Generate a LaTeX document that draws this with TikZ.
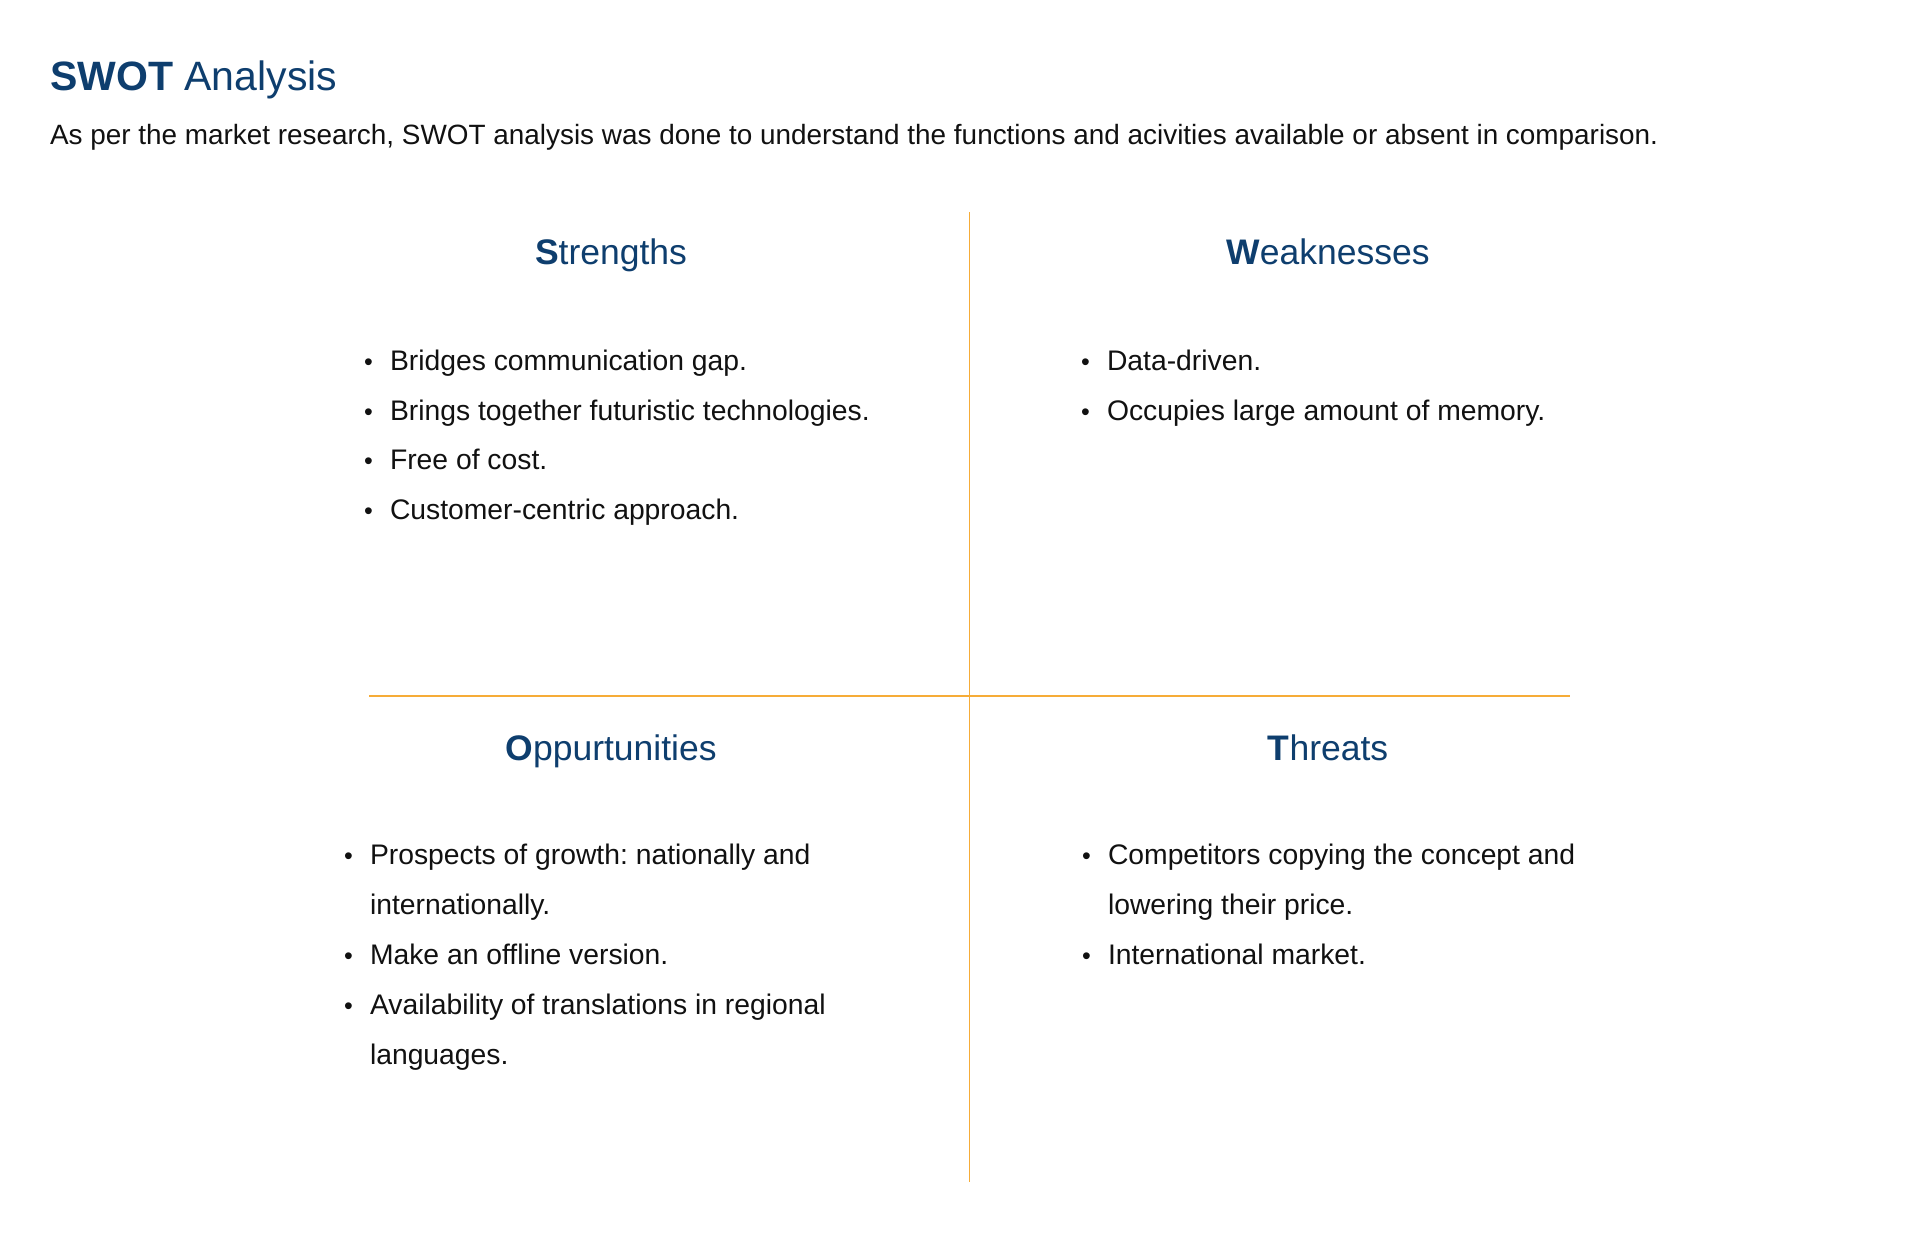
\documentclass[tikz,border=0pt]{standalone}
\usepackage{fontspec}
\setmainfont{Liberation Sans}
\frenchspacing
\definecolor{swblue}{HTML}{0E3E6E}
\definecolor{swline}{HTML}{F6AC38}
\definecolor{swtext}{HTML}{111111}
\begin{document}
\begin{tikzpicture}[x=1pt,y=-1pt,
  txt/.style={anchor=base west,inner sep=0pt,outer sep=0pt,text=swtext,font=\fontsize{28.3}{32}\selectfont},
  head/.style={anchor=base,inner sep=0pt,outer sep=0pt,text=swblue,font=\fontsize{35.5}{40}\selectfont},
  bul/.style={anchor=base west,inner sep=0pt,outer sep=0pt,text=swtext,font=\fontsize{25}{28}\selectfont},
  divider/.style={draw=swline,line width=1.1pt}]
\useasboundingbox[fill=white] (0,0) rectangle (1918,1256);
% title
\node[anchor=base west,inner sep=0pt,text=swblue,font=\fontsize{41}{46}\selectfont] (title) at (50,90) {\textbf{SWOT} Analysis};
\node[txt,font=\fontsize{27.9}{32}\selectfont] (sub) at (50,144) {As per the market research, SWOT analysis was done to understand the functions and acivities available or absent in comparison.};
% dividers
\coordinate (vtop) at (969.5,212);
\coordinate (vbot) at (969.5,1182);
\coordinate (hl) at (369,696);
\coordinate (hr) at (1570,696);
\draw[divider] (vtop) -- (vbot);
\draw[divider] (hl) -- (hr);
% headings
\node[head] (hs) at (611,264) {\textbf{S}trengths};
\node[head] (hw) at (1328,264) {\textbf{W}eaknesses};
\node[head] (ho) at (611,760) {\textbf{O}ppurtunities};
\node[head] (ht) at (1328,760) {\textbf{T}hreats};
% strengths
\foreach \y/\t [count=\i] in {370/Bridges communication gap., 420/Brings together futuristic technologies., 469/Free of cost., 519/Customer-centric approach.}{
  \node[bul] (sb\i) at (364,\y) {•};
  \node[txt] (s\i) at (390,\y) {\t};
}
% weaknesses
\foreach \y/\t [count=\i] in {370/Data-driven., 420/Occupies large amount of memory.}{
  \node[bul] (wb\i) at (1081,\y) {•};
  \node[txt] (w\i) at (1107,\y) {\t};
}
% opportunities
\node[bul] (ob1) at (344,864) {•};
\node[txt] (o1) at (370,864) {Prospects of growth: nationally and};
\node[txt] (o1b) at (370,914) {internationally.};
\node[bul] (ob2) at (344,964) {•};
\node[txt] (o2) at (370,964) {Make an offline version.};
\node[bul] (ob3) at (344,1014) {•};
\node[txt] (o3) at (370,1014) {Availability of translations in regional};
\node[txt] (o3b) at (370,1064) {languages.};
% threats
\node[bul] (tb1) at (1082,864) {•};
\node[txt] (t1) at (1108,864) {Competitors copying the concept and};
\node[txt] (t1b) at (1108,914) {lowering their price.};
\node[bul] (tb2) at (1082,964) {•};
\node[txt] (t2) at (1108,964) {International market.};
\end{tikzpicture}
\end{document}
